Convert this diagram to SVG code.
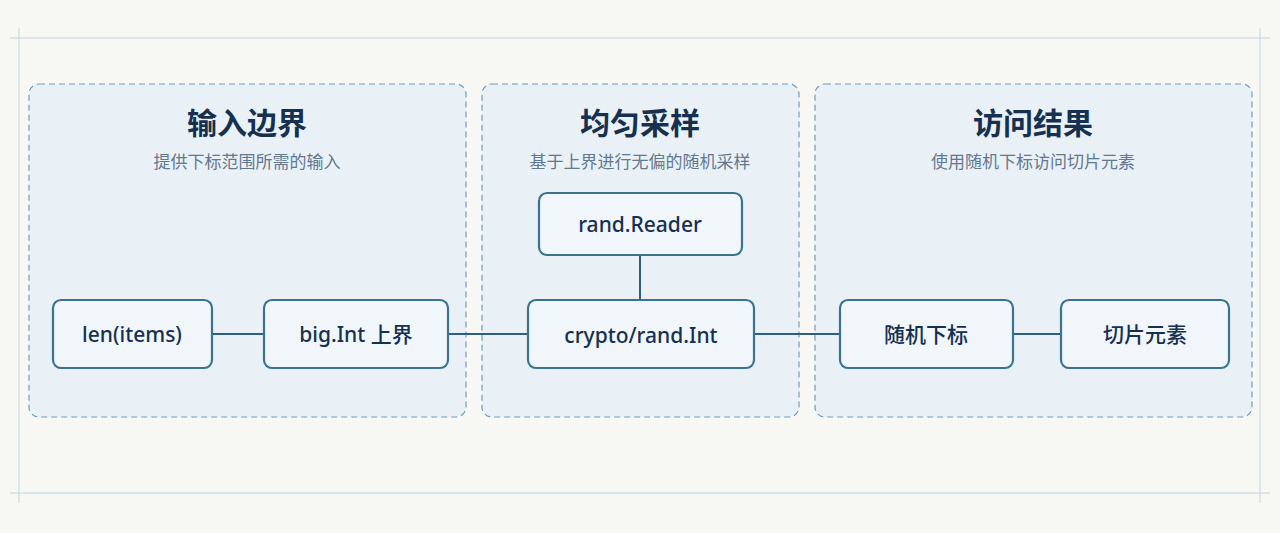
<svg xmlns="http://www.w3.org/2000/svg" width="1280" height="533" viewBox="0 0 1280 533">
<style>
.frame{stroke:#c5d4e0;stroke-width:1;fill:none}
.panel{fill:#e6eff6;fill-opacity:0.8;stroke:#6e9cbc;stroke-width:1.2;stroke-dasharray:6 4}
.node rect{fill:#f1f6fa;stroke:#3a7391;stroke-width:2.2}
.node text{font-family:"Noto Sans","Noto Sans CJK SC",sans-serif;font-size:21px;font-weight:500;fill:#16304f;text-anchor:middle;dominant-baseline:central}
.title{font-family:"Noto Sans CJK SC",sans-serif;font-size:30px;font-weight:bold;fill:#16304f;text-anchor:middle}
.sub{font-family:"Noto Sans CJK SC",sans-serif;font-size:17px;fill:#62788e;text-anchor:middle}
.conn line{stroke:#2f5f7e;stroke-width:2}
</style>
<rect width="1280" height="533" fill="#f7f7f4"/>
<g id="frame">
<line class="frame" x1="10" y1="38" x2="1270" y2="38"/>
<line class="frame" x1="10" y1="493" x2="1270" y2="493"/>
<line class="frame" x1="19" y1="28" x2="19" y2="503"/>
<line class="frame" x1="1260" y1="28" x2="1260" y2="503"/>
</g>
<g id="panel-input"><rect class="panel" x="29" y="84" width="437" height="333" rx="10"/>
<text class="title" x="247" y="134">输入边界</text><text class="sub" x="247" y="168">提供下标范围所需的输入</text></g>
<g id="panel-sample"><rect class="panel" x="482" y="84" width="317" height="333" rx="10"/>
<text class="title" x="640" y="134">均匀采样</text><text class="sub" x="640" y="168">基于上界进行无偏的随机采样</text></g>
<g id="panel-access"><rect class="panel" x="815" y="84" width="437" height="333" rx="10"/>
<text class="title" x="1033" y="134">访问结果</text><text class="sub" x="1033" y="168">使用随机下标访问切片元素</text></g>
<g id="connectors" class="conn">
<line x1="212" y1="334" x2="264" y2="334"/>
<line x1="448" y1="334" x2="528" y2="334"/>
<line x1="640" y1="255" x2="640" y2="300"/>
<line x1="754" y1="334" x2="840" y2="334"/>
<line x1="1013" y1="334" x2="1061" y2="334"/>
</g>
<g id="n-len" class="node"><rect x="53" y="300" width="159" height="68" rx="8"/><text x="132" y="334">len(items)</text></g>
<g id="n-big" class="node"><rect x="264" y="300" width="184" height="68" rx="8"/><text x="356" y="334">big.Int  上界</text></g>
<g id="n-reader" class="node"><rect x="539" y="193" width="203" height="62" rx="8"/><text x="640" y="224">rand.Reader</text></g>
<g id="n-int" class="node"><rect x="528" y="300" width="226" height="68" rx="8"/><text x="641" y="335">crypto/rand.Int</text></g>
<g id="n-idx" class="node"><rect x="840" y="300" width="173" height="68" rx="8"/><text x="926" y="334">随机下标</text></g>
<g id="n-elem" class="node"><rect x="1061" y="300" width="168" height="68" rx="8"/><text x="1145" y="334">切片元素</text></g>
</svg>
